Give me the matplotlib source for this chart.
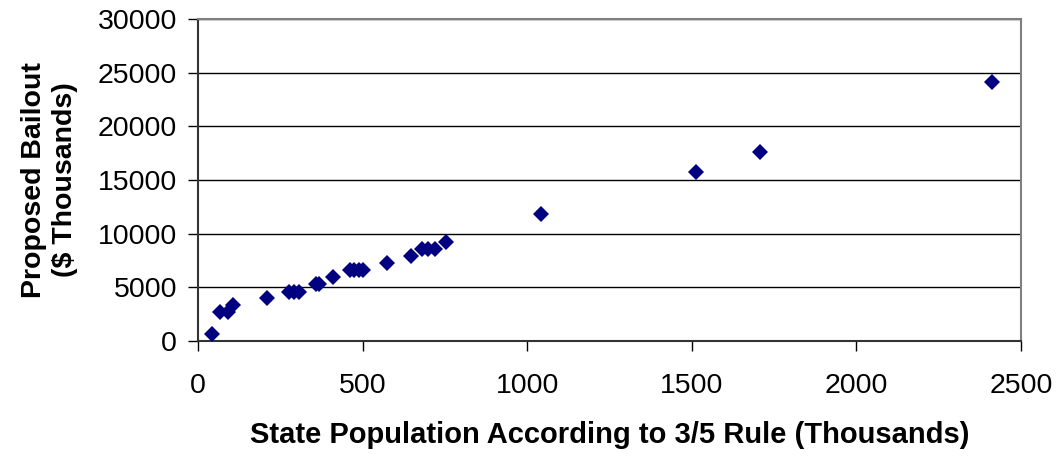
import matplotlib
matplotlib.use("Agg")
import matplotlib.pyplot as plt

# state population under the 3/5 rule (thousands) vs proposed bailout ($ thousands)
population = [43, 67, 90, 107, 211, 275, 292, 307, 360, 368, 409,
              462, 475, 489, 502, 575, 646, 680, 700, 720, 754,
              1041, 1513, 1707, 2411]
bailout = [650, 2650, 2700, 3350, 3950, 4550, 4550, 4550, 5250, 5300, 5930,
           6600, 6600, 6600, 6600, 7220, 7900, 8550, 8550, 8550, 9250,
           11800, 15700, 17630, 24150]

x_ticks = [0, 500, 1000, 1500, 2000, 2500]
y_ticks = [0, 5000, 10000, 15000, 20000, 25000, 30000]

plt.rcParams["font.family"] = ["Liberation Sans", "DejaVu Sans"]

fig = plt.figure(figsize=(10.61, 4.57), dpi=100)
ax = fig.add_axes([0.1866, 0.2545, 0.7757, 0.7033])

ax.plot(population, bailout, linestyle="none", marker="D", markersize=8.6,
        color="#000080", markeredgewidth=0, zorder=3)

ax.set_xlim(0, 2500)
ax.set_ylim(0, 30000)
ax.set_xticks(x_ticks)
ax.set_yticks(y_ticks)
ax.tick_params(labelsize=20.5, length=7, width=1, color="black", pad=8)
ax.tick_params(axis="x", pad=16)

ax.yaxis.grid(True, color="black", linewidth=1)
ax.set_axisbelow(True)

for side in ["top", "right"]:
    ax.spines[side].set_color("#808080")
    ax.spines[side].set_linewidth(1.5)
for side in ["left", "bottom"]:
    ax.spines[side].set_color("#333333")
    ax.spines[side].set_linewidth(1.5)

ax.set_xlabel("State Population According to 3/5 Rule (Thousands)",
              fontsize=21, fontweight="bold", labelpad=16)
ax.set_ylabel("Proposed Bailout\n($ Thousands)", fontsize=20.5,
              fontweight="bold", labelpad=14, linespacing=1.25)

fig.savefig("out.png", dpi=100)
